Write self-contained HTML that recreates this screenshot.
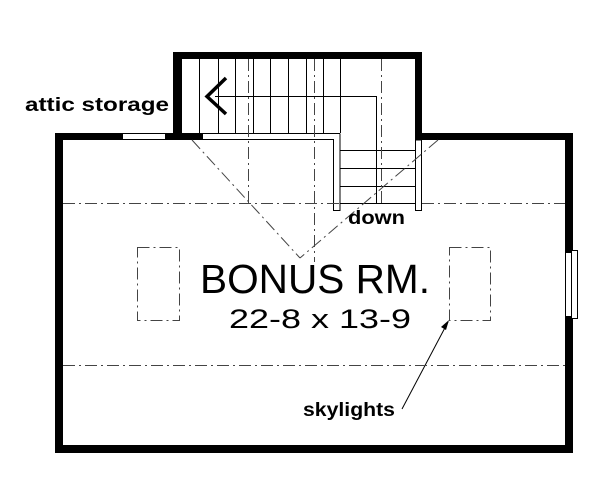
<!DOCTYPE html>
<html><head><style>html,body{margin:0;padding:0;background:#fff}svg{display:block}</style></head><body>
<svg width="600" height="501" viewBox="0 0 600 501" xmlns="http://www.w3.org/2000/svg">
<g fill="#000">
<rect x="55" y="133" width="8" height="320"/>
<rect x="55" y="445" width="518" height="8"/>
<rect x="565" y="133" width="8" height="320"/>
<rect x="55" y="133" width="67" height="7"/>
<rect x="166" y="133" width="37" height="7"/>
<rect x="415" y="133" width="158" height="7"/>
<rect x="173" y="52" width="249" height="7"/>
<rect x="173" y="52" width="9" height="88"/>
<rect x="415" y="52" width="7" height="88"/>
</g>
<g fill="#fff" stroke="#000" stroke-width="1">
<rect x="122.5" y="133.5" width="43" height="6"/>
<rect x="203" y="133.5" width="130" height="6" stroke="none"/>
<polyline points="203,133.5 340,133.5" fill="none"/>
<polyline points="203,139.5 333.5,139.5 333.5,210.5 340,210.5 340,133.5" fill="none"/>
<rect x="415.5" y="140" width="6" height="70.5"/>
<rect x="565.5" y="252.5" width="6" height="64"/>
<rect x="571.5" y="250.5" width="6" height="68"/>
</g>
<g stroke="#000" stroke-width="1" fill="none">
<path d="M199.5 59V133M218.5 59V133M235.5 59V133M253.5 59V133M270.5 59V133M288.5 59V133M306.5 59V133M323.5 59V133M340.5 59V133"/>
<path d="M340 150.5H415M340 168.5H415M340 186.5H415M340 203.5H415"/>
<path d="M215 96.5H376.5V203"/>
<path d="M226 78L207 96.5L226 114" stroke-width="3.5"/>
<path d="M402 409L448 322" />
</g>
<path d="M449 320L441 327L446 330Z" fill="#000"/>
<g stroke="#444" stroke-width="1" fill="none" stroke-dasharray="12,4,2,4">
<path d="M63 203.5H340M422 203.5H565"/>
<path d="M63 365.5H565"/>
<path d="M248.5 59V203M314.5 59V262M381.5 59V203"/>
<path d="M192 140L300 258M438 140L300 258"/>
<rect x="137.5" y="247.5" width="42" height="73"/>
<rect x="449.5" y="247.5" width="41" height="73"/>
</g>
<g font-family="Liberation Sans, sans-serif" fill="#000">
<text x="25" y="111" font-size="19" font-weight="bold" textLength="144" lengthAdjust="spacingAndGlyphs">attic storage</text>
<text x="348" y="224" font-size="19" font-weight="bold" textLength="57" lengthAdjust="spacingAndGlyphs">down</text>
<text x="200" y="293" font-size="41" textLength="230" lengthAdjust="spacingAndGlyphs">BONUS RM.</text>
<text x="229" y="328" font-size="27" textLength="182" lengthAdjust="spacingAndGlyphs">22-8 x 13-9</text>
<text x="303" y="416" font-size="19" font-weight="bold" textLength="92" lengthAdjust="spacingAndGlyphs">skylights</text>
</g>
</svg>
</body></html>
